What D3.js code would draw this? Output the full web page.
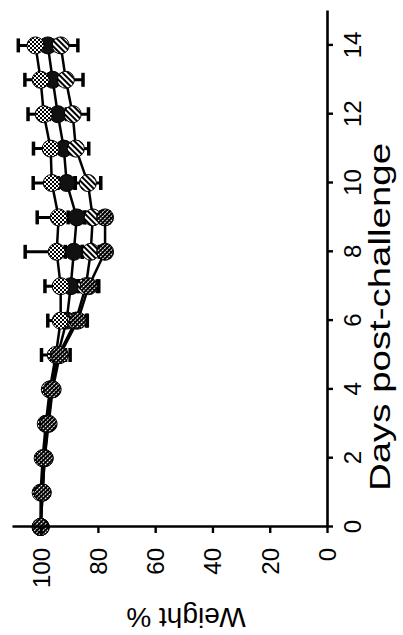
<!DOCTYPE html>
<html>
<head>
<meta charset="utf-8">
<script src="https://cdn.jsdelivr.net/npm/d3@7"></script>
<style>
  html, body { margin: 0; padding: 0; background: #fff; }
  svg { display: block; }
  text { font-family: "Liberation Sans", Arial, sans-serif; fill: #000; }
</style>
</head>
<body>
<svg id="chart" width="403" height="635"></svg>
<script>
// weight % per day (chart is printed turned on its side)
const days = [0, 1, 2, 3, 4, 5, 6, 7, 8, 9, 10, 11, 12, 13, 14];
const daysShort = [0, 1, 2, 3, 4, 5, 6, 7, 8, 9];

const checkerMean = [100, 100, 99.3, 98.2, 96.8, 94.7, 93, 93, 94.4, 93.7, 96.1, 96.5, 98.9, 100, 101.8];
const checkerSd   = [0.3, 0.5, 0.6, 0.8, 1, 5, 4.5, 5.5, 11, 7.5, 6.5, 6, 5.5, 5.5, 6];

const blackMean = [100, 99.6, 99, 97.9, 96.5, 94, 90.9, 89.5, 88.4, 87.4, 90.9, 91.9, 94, 95.8, 97.5];
const blackSd   = [0.3, 0.5, 0.6, 0.8, 1, 2, 3, 3, 3, 3, 3, 3, 3, 3, 3];

const diagMean = [100, 99.3, 98.6, 97.5, 96.1, 93.7, 87.7, 84.2, 82.5, 81.8, 83.5, 87.7, 88.8, 91.2, 93];
const diagSd   = [0.3, 0.5, 0.6, 0.8, 1, 2, 4, 4, 3, 3, 4.5, 4.5, 5.5, 6, 6];

const denseMean = [100, 99.3, 98.6, 97.2, 95.8, 93.3, 87, 83.2, 77.5, 77.5];
const denseSd   = [0.3, 0.5, 0.6, 0.8, 1, 2, 3, 3.5, 1.5, 1.5];

const dayTicks = [0, 2, 4, 6, 8, 10, 12, 14];
const weightTicks = [0, 20, 40, 60, 80, 100];

const svg = d3.select('#chart');
const defs = svg.append('defs');

// marker fills
const pChecker = defs.append('pattern').attr('id', 'pChecker')
  .attr('patternUnits', 'userSpaceOnUse').attr('width', 4).attr('height', 4);
pChecker.append('rect').attr('width', 4).attr('height', 4).attr('fill', '#fff');
pChecker.append('rect').attr('width', 2).attr('height', 2).attr('fill', '#000');
pChecker.append('rect').attr('x', 2).attr('y', 2).attr('width', 2).attr('height', 2).attr('fill', '#000');

const pDiag = defs.append('pattern').attr('id', 'pDiag')
  .attr('patternUnits', 'userSpaceOnUse').attr('width', 4).attr('height', 4)
  .attr('patternTransform', 'rotate(45)');
pDiag.append('rect').attr('width', 4).attr('height', 4).attr('fill', '#fff');
pDiag.append('rect').attr('width', 2).attr('height', 4).attr('fill', '#000');

const pDense = defs.append('pattern').attr('id', 'pDense')
  .attr('patternUnits', 'userSpaceOnUse').attr('width', 3).attr('height', 3)
  .attr('patternTransform', 'rotate(-45)');
pDense.append('rect').attr('width', 3).attr('height', 3).attr('fill', '#fff');
pDense.append('rect').attr('width', 2).attr('height', 3).attr('fill', '#000');
pDense.append('rect').attr('width', 3).attr('height', 1).attr('fill', '#000');

// plot frame, then turned a quarter turn counter-clockwise
const W = 516, H = 315;
const g = svg.append('g').attr('transform', 'translate(12,527) rotate(-90)');

const x = d3.scaleLinear().domain([0, 15]).range([0, W]);
const y = d3.scaleLinear().domain([0, 110]).range([H, 0]);

// drawing order: black first so the hatched markers sit on top
const series = [
  { name: 'black', xs: days, mean: blackMean, sd: blackSd, fill: '#111' },
  { name: 'checker', xs: days, mean: checkerMean, sd: checkerSd, fill: 'url(#pChecker)' },
  { name: 'diag', xs: days, mean: diagMean, sd: diagSd, fill: 'url(#pDiag)' },
  { name: 'dense', xs: daysShort, mean: denseMean, sd: denseSd, fill: 'url(#pDense)' }
];
series.forEach(s => { s.pts = s.xs.map((d, i) => ({ d, m: s.mean[i], sd: s.sd[i] })); });

// error bars
const gErr = g.append('g');
series.forEach(s => {
  const e = gErr.append('g').selectAll('g').data(s.pts).join('g');
  e.append('line')
    .attr('x1', p => x(p.d)).attr('x2', p => x(p.d))
    .attr('y1', p => y(p.m - p.sd)).attr('y2', p => y(p.m + p.sd))
    .attr('stroke', '#000').attr('stroke-width', 3);
  [-1, 1].forEach(k => {
    e.append('line')
      .attr('x1', p => x(p.d) - 7).attr('x2', p => x(p.d) + 7)
      .attr('y1', p => y(p.m + k * p.sd)).attr('y2', p => y(p.m + k * p.sd))
      .attr('stroke', '#000').attr('stroke-width', 3.5);
  });
});

// connecting lines
const line = d3.line().x(p => x(p.d)).y(p => y(p.m));
series.forEach(s => {
  g.append('path').datum(s.pts).attr('d', line)
    .attr('fill', 'none').attr('stroke', '#000').attr('stroke-width', 2.5);
});

// markers
series.forEach(s => {
  g.append('g').selectAll('circle').data(s.pts).join('circle')
    .attr('cx', p => x(p.d)).attr('cy', p => y(p.m)).attr('r', 8.5)
    .attr('fill', s.fill).attr('stroke', '#000').attr('stroke-width', 1);
});

// axes
const xAxis = g.append('g').attr('transform', `translate(0,${H})`)
  .call(d3.axisBottom(x).tickValues(dayTicks).tickSize(6).tickSizeOuter(0));
const yAxis = g.append('g')
  .call(d3.axisLeft(y).tickValues(weightTicks).tickSize(6).tickSizeOuter(0));

[xAxis, yAxis].forEach(a => {
  a.select('.domain').attr('stroke', '#000').attr('stroke-width', 2.6);
  a.selectAll('.tick line').attr('stroke', '#000').attr('stroke-width', 2.4);
  a.selectAll('.tick text').attr('font-size', 24).attr('font-family', '"Liberation Sans", Arial, sans-serif');
});
xAxis.selectAll('.tick text').attr('y', 26).attr('dy', '0.35em');
yAxis.selectAll('.tick text').attr('x', -21).attr('dy', '0.35em');

// axis titles
g.append('text')
  .attr('x', 210).attr('y', 367)
  .attr('text-anchor', 'middle').attr('dy', '0.35em')
  .attr('font-size', 30)
  .attr('textLength', 348).attr('lengthAdjust', 'spacingAndGlyphs')
  .text('Days post-challenge');

g.append('text')
  .attr('transform', 'translate(-91,174) rotate(-90)')
  .attr('text-anchor', 'middle').attr('dy', '0.35em')
  .attr('font-size', 28)
  .text('Weight %');
</script>
</body>
</html>
